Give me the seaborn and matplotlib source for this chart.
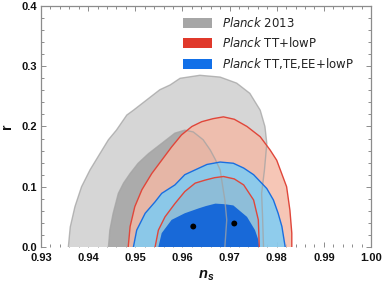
import matplotlib
matplotlib.use("Agg")
import matplotlib.pyplot as plt
from matplotlib.patches import Patch
from matplotlib.ticker import MultipleLocator, FormatStrFormatter
import seaborn as sns
import pandas as pd

# ---- data (contour outlines, in data units) ----
grey95_ns = [0.9358, 0.9362, 0.9372, 0.9386, 0.9404, 0.9425, 0.9443, 0.9460, 0.9482, 0.9496,
             0.9524, 0.9552, 0.9574, 0.9595, 0.9637, 0.9680, 0.9715, 0.9743, 0.9765, 0.9775,
             0.9779, 0.9774, 0.9768, 0.9770, 0.9772]
grey95_r = [0.000, 0.033, 0.067, 0.100, 0.128, 0.155, 0.178, 0.194, 0.219, 0.227,
            0.244, 0.261, 0.269, 0.280, 0.285, 0.282, 0.272, 0.255, 0.227, 0.200,
            0.172, 0.128, 0.089, 0.050, 0.000]

grey68_ns = [0.9443, 0.9446, 0.9453, 0.9464, 0.9475, 0.9489, 0.9506, 0.9528, 0.9556, 0.9584,
             0.9605, 0.9623, 0.9644, 0.9659, 0.9670, 0.9680, 0.9690, 0.9694, 0.9690]
grey68_r = [0.000, 0.028, 0.056, 0.089, 0.106, 0.122, 0.139, 0.155, 0.172, 0.189,
            0.194, 0.191, 0.178, 0.161, 0.145, 0.128, 0.078, 0.045, 0.000]

red95_ns = [0.9485, 0.9489, 0.9499, 0.9514, 0.9535, 0.9556, 0.9577, 0.9598, 0.9620, 0.9641,
            0.9665, 0.9687, 0.9710, 0.9737, 0.9765, 0.9786, 0.9800, 0.9821, 0.9828, 0.9832, 0.9832]
red95_r = [0.000, 0.034, 0.067, 0.095, 0.122, 0.144, 0.166, 0.186, 0.200, 0.208,
           0.213, 0.216, 0.212, 0.200, 0.183, 0.161, 0.144, 0.100, 0.061, 0.023, 0.000]

red68_ns = [0.9542, 0.9549, 0.9563, 0.9584, 0.9605, 0.9627, 0.9648, 0.9668, 0.9687, 0.9710,
            0.9730, 0.9751, 0.9761, 0.9763]
red68_r = [0.000, 0.028, 0.050, 0.072, 0.092, 0.106, 0.111, 0.115, 0.117, 0.113,
           0.103, 0.078, 0.045, 0.000]

blue95_ns = [0.9496, 0.9503, 0.9521, 0.9542, 0.9556, 0.9584, 0.9605, 0.9627, 0.9652, 0.9680,
             0.9708, 0.9730, 0.9751, 0.9779, 0.9793, 0.9803, 0.9811, 0.9818]
blue95_r = [0.000, 0.028, 0.056, 0.075, 0.089, 0.103, 0.120, 0.128, 0.137, 0.141,
            0.139, 0.131, 0.120, 0.097, 0.078, 0.056, 0.034, 0.000]

blue68_ns = [0.9549, 0.9556, 0.9577, 0.9605, 0.9634, 0.9650, 0.9670, 0.9690, 0.9708, 0.9737,
             0.9754, 0.9761, 0.9763]
blue68_r = [0.000, 0.023, 0.045, 0.056, 0.064, 0.068, 0.072, 0.071, 0.069, 0.050,
            0.028, 0.012, 0.000]

best_ns = [0.9623, 0.9710]
best_r = [0.034, 0.039]

legend_labels = [r"$\mathit{Planck}$ 2013",
                 r"$\mathit{Planck}$ TT+lowP",
                 r"$\mathit{Planck}$ TT,TE,EE+lowP"]

# ---- style ----
sns.set_style("ticks")
plt.rcParams["font.family"] = ["DejaVu Sans"]
plt.rcParams["mathtext.fontset"] = "custom"
plt.rcParams["mathtext.rm"] = "DejaVu Sans"
plt.rcParams["mathtext.it"] = "DejaVu Sans:italic"
plt.rcParams["mathtext.bf"] = "Liberation Sans:italic:bold"

fig = plt.figure(figsize=(3.82, 2.86), dpi=100)
ax = fig.add_axes([41/382, 1-247/286, 330/382, 241/286])

GREY_EDGE = "#a3a3a3"
RED_EDGE = "#e0463a"
BLUE_EDGE = "#1a6ee0"

# fills
ax.fill(grey95_ns, grey95_r, color="#d6d6d6", lw=0, zorder=1)
ax.fill(grey68_ns, grey68_r, color="#ababab", lw=0, zorder=1.1)
ax.fill(red95_ns, red95_r, color="#f4b9a5", alpha=0.81, lw=0, zorder=1.2)
ax.fill(red68_ns, red68_r, color="#f65e26", alpha=0.5, lw=0, zorder=1.3)
ax.fill(blue95_ns, blue95_r, color="#6dcfff", alpha=0.75, lw=0, zorder=1.4)
ax.fill(blue68_ns, blue68_r, color="#1466d8", alpha=0.97, lw=0, zorder=1.5)

# outlines
def outline(ns, r, color, alpha, z):
    df = pd.DataFrame({"ns": ns, "r": r})
    sns.lineplot(data=df, x="ns", y="r", sort=False, estimator=None, color=color,
                 alpha=alpha, lw=1.0, ax=ax, zorder=z)

outline(grey95_ns, grey95_r, GREY_EDGE, 0.75, 2)
outline(grey68_ns, grey68_r, GREY_EDGE, 0.75, 2)
outline(red95_ns, red95_r, RED_EDGE, 1.0, 3)
outline(red68_ns, red68_r, RED_EDGE, 1.0, 3)
outline(blue95_ns, blue95_r, BLUE_EDGE, 1.0, 4)

sns.scatterplot(x=best_ns, y=best_r, color="black", s=18, edgecolor="none", ax=ax, zorder=5)

# axes
ax.set_xlim(0.93, 1.00)
ax.set_ylim(0.0, 0.4)
ax.xaxis.set_major_locator(MultipleLocator(0.01))
ax.xaxis.set_minor_locator(MultipleLocator(0.002))
ax.yaxis.set_major_locator(MultipleLocator(0.1))
ax.yaxis.set_minor_locator(MultipleLocator(0.02))
ax.xaxis.set_major_formatter(FormatStrFormatter("%.2f"))
ax.yaxis.set_major_formatter(FormatStrFormatter("%.1f"))

for s in ["left", "top", "right"]:
    ax.spines[s].set_visible(True)
    ax.spines[s].set_color("#8c8c8c")
    ax.spines[s].set_linewidth(0.9)
ax.spines["bottom"].set_visible(False)

ax.tick_params(which="both", direction="in", top=True, right=True, bottom=True, left=True,
               color="#8c8c8c", width=0.7)
ax.tick_params(which="major", length=3.8)
ax.tick_params(which="minor", length=2.4)
ax.tick_params(axis="x", which="major", pad=4)
ax.tick_params(axis="y", which="major", pad=3)
for lab in ax.get_xticklabels() + ax.get_yticklabels():
    lab.set_fontfamily("Liberation Sans")
    lab.set_fontweight("bold")
    lab.set_fontsize(8)
    lab.set_color("#111111")

ax.set_xlabel(r"$\mathbf{n}_\mathbf{s}$", fontsize=10.5, labelpad=4, color="#111111")
ax.set_ylabel("r", fontsize=10, fontweight="bold", family="Liberation Sans", labelpad=5,
              color="#111111")

handles = [Patch(facecolor="#a6a6a6", edgecolor="none"),
           Patch(facecolor="#e0392b", edgecolor="none"),
           Patch(facecolor="#1270e8", edgecolor="none")]
leg = ax.legend(handles, legend_labels, loc="upper left", bbox_to_anchor=(0.43, 0.958),
                frameon=False, fontsize=8.5, handlelength=2.5, handleheight=0.9,
                handletextpad=0.85, labelspacing=0.5, borderpad=0, borderaxespad=0)
for t in leg.get_texts():
    t.set_color("#222222")

fig.savefig("out.png", dpi=100)
